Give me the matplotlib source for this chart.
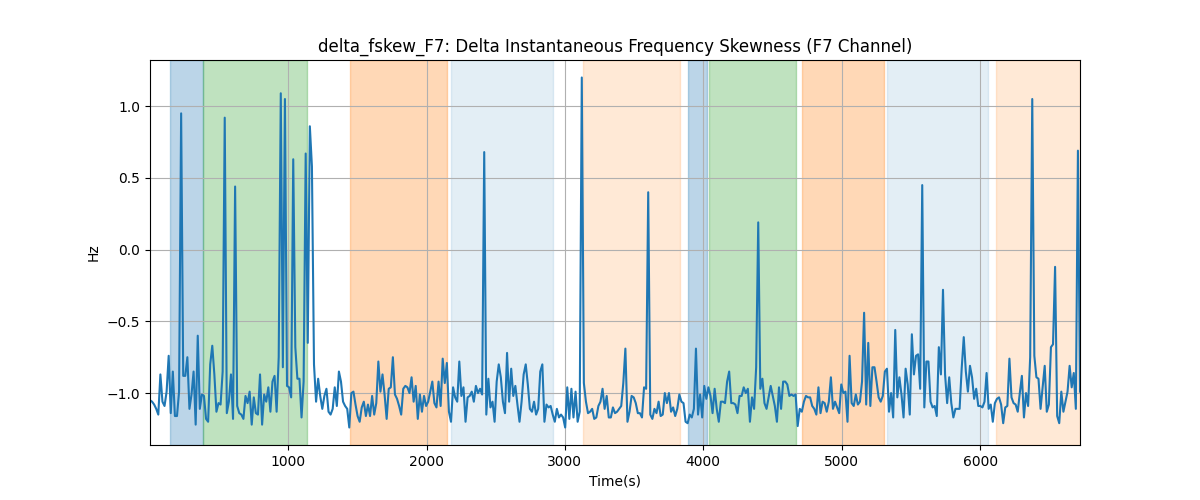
import numpy as np
import matplotlib
matplotlib.use("Agg")
import matplotlib.pyplot as plt

# sampled every 15 s
step = 15
t0 = 2

seg1 = [-1.05, -1.06, -1.08, -1.11, -1.15, -0.87, -1.06, -1.09, -0.99, -0.74, -1.14, -0.85, -1.16, -1.16,
        -0.99, 0.95, -0.88, -0.88, -0.75, -1.11, -1.01, -0.85, -1.22, -0.60, -1.11, -1.01, -1.02, -1.18,
        -1.20, -0.80, -0.67, -0.87, -1.13, -1.07, -1.08, -0.85, 0.92, -1.14, -1.06, -0.87, -1.18, 0.44,
        -1.09, -1.14, -1.15, -1.18, -1.02, -1.07, -0.99, -1.22, -1.03, -1.14, -1.15, -0.87, -1.22, -1.01]
seg2 = [-1.06, -0.96, -1.13, -0.92, -0.88, -1.13, -0.75, 1.09, -0.82, 1.05, -0.95, -0.96, -1.03, 0.63,
        -0.68, -0.90, -0.90, -1.17, -0.92, 0.67, -0.65, 0.86, 0.58, -0.80, -1.06, -0.90, -1.02, -1.11,
        -1.02, -0.97, -1.13, -1.15, -1.11, -0.96, -1.09, -0.85, -0.92, -1.06, -1.09, -1.11, -1.24, -1.00,
        -0.99, -1.08, -1.16, -1.20, -1.10, -1.06, -1.16, -1.08, -1.16, -1.02, -1.15, -1.07, -0.78]
seg3 = [-0.99, -0.87, -1.01, -1.18, -0.97, -0.96, -0.75, -1.01, -1.04, -1.09, -1.15, -0.97, -0.95, -0.96,
        -1.00, -0.89, -1.06, -0.95, -1.18, -1.01, -1.13, -1.02, -1.09, -1.06, -0.99, -0.92, -1.07, -1.10,
        -0.92, -1.09, -0.76, -0.93, -0.79, -1.13, -1.20, -0.96, -1.03, -1.06, -0.78, -1.02, -0.96, -1.20,
        -1.03, -1.02, -0.99, -1.06, -0.95, -1.00, -0.97, -1.01, 0.68, -1.15, -0.90, -1.10, -1.06, -1.20,
        -0.92]
seg4 = [-0.80, -0.89, -1.06, -1.14, -0.72, -1.06, -0.83, -1.02, -0.95, -1.08, -1.20, -1.06, -0.87, -0.80,
        -0.94, -1.11, -1.13, -1.06, -1.15, -1.11, -0.85, -0.80, -1.20, -1.08, -1.10, -1.09, -1.15, -1.20,
        -1.11, -1.17, -1.15, -1.17, -1.24, -0.96, -1.18, -0.97, -1.17, -0.99, -1.20, -1.13, 1.20, -0.93,
        -1.06, -1.14, -1.13, -1.11, -1.18, -1.17, -1.09, -1.06, -0.97, -1.11, -1.02, -1.17, -1.17, -1.10,
        -1.14]
seg5 = [-1.13, -1.11, -1.09, -0.93, -0.69, -1.20, -1.13, -1.02, -1.03, -1.07, -1.14, -1.14, -1.17, -0.96,
        -0.97, 0.40, -1.15, -1.18, -1.11, -1.14, -1.06, -1.16, -1.15, -1.00, -1.07, -1.00, -1.13,
        -1.10, -1.16, -1.11, -1.01, -1.06, -1.07, -1.20, -1.21, -1.15, -1.17, -1.11, -0.69, -1.15, -1.01,
        -1.17, -0.95, -1.04, -0.96, -1.02, -1.14, -0.97, -1.11, -1.20, -1.06, -1.06, -1.07, -0.92, -0.85,
        -1.07]
seg6 = [-1.07, -1.08, -1.14, -1.02, -1.02, -0.96, -1.00, -0.97, -1.20, -1.03, -1.11, -0.82, 0.19, -0.97,
        -0.90, -1.07, -1.11, -1.03, -0.95, -1.02, -1.09, -1.20, -0.96, -1.11, -0.92, -0.92, -0.94, -1.02,
        -1.01, -1.02, -1.01, -1.23, -1.11, -1.13, -1.06, -1.02, -1.03, -1.03, -1.09, -1.11, -1.15, -0.96,
        -1.14, -1.06, -1.07, -1.13, -1.06, -0.89, -1.11, -1.06, -1.10, -1.14, -0.94, -1.00, -0.99, -1.20]
seg7 = [-0.74, -1.07, -1.09, -1.01, -1.08, -1.06, -0.92, -0.44, -1.08, -0.65, -1.09, -0.82, -0.82, -0.92,
        -1.03, -1.06, -1.02, -0.85, -0.83, -1.13, -1.00, -1.17, -0.56, -1.03, -0.89, -1.01, -1.17, -0.83,
        -0.94, -1.15, -0.59, -0.87, -0.74, -0.73, -0.97, 0.45, -1.10, -0.78, -0.78, -1.06, -1.10, -1.09,
        -1.16, -0.68, -0.87, -0.28, -0.87, -1.07, -0.89, -1.07, -1.17, -1.11, -1.11, -1.11, -0.83, -0.61]
seg8 = [-0.85, -0.99, -0.81, -0.89, -1.04, -0.97, -1.09, -1.09, -1.10, -1.06, -0.86, -1.11, -1.08, -1.20,
        -1.07, -1.04, -1.03, -1.08, -1.21, -1.10, -1.09, -0.76, -1.03, -1.07, -1.08, -1.13, -1.00, -0.88,
        -1.17, -1.00, -1.09, -0.75, 1.05, -0.74, -0.89, -0.90, -1.11, -0.96, -0.81, -1.13, -1.08, -0.68,
        -0.66, -0.12, -1.16, -1.21, -0.99, -1.13, -1.06, -0.99, -0.81, -0.96, -0.86, -1.11, 0.69, -0.99]

fskew = seg1 + seg2 + seg3 + seg4 + seg5 + seg6 + seg7 + seg8
times = t0 + np.arange(len(fskew)) * step

# state bands: start, end, colour, alpha
band_start = [147, 385, 1449, 2179, 3134, 3890, 4038, 4711, 5331, 6113]
band_end = [385, 1138, 2150, 2917, 3835, 4027, 4667, 5309, 6054, 6722]
band_color = ['tab:blue', 'tab:green', 'tab:orange', 'tab:blue', 'tab:orange',
              'tab:blue', 'tab:green', 'tab:orange', 'tab:blue', 'tab:orange']
band_alpha = [0.3, 0.3, 0.3, 0.12, 0.17, 0.3, 0.3, 0.3, 0.12, 0.17]

fig, ax = plt.subplots(figsize=(12, 5), dpi=100)
for s, e, c, a in zip(band_start, band_end, band_color, band_alpha):
    ax.axvspan(s, e, color=c, alpha=a)
ax.plot(times, fskew, color='tab:blue')
ax.set_xlim(times[0], times[-1])
ax.grid(True)
ax.set_title('delta_fskew_F7: Delta Instantaneous Frequency Skewness (F7 Channel)')
ax.set_xlabel('Time(s)')
ax.set_ylabel('Hz')
fig.savefig('out.png')
